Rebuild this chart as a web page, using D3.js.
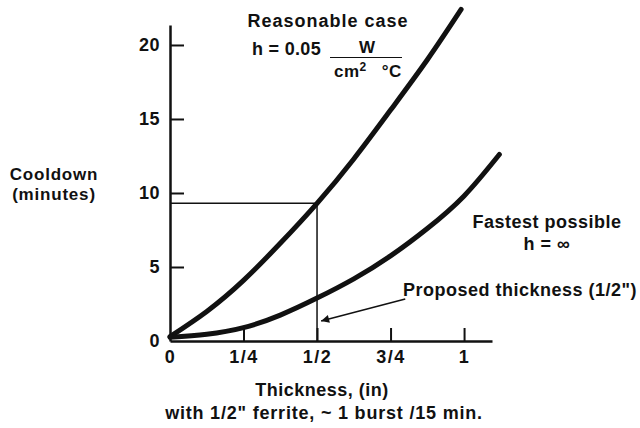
<!DOCTYPE html>
<html>
<head>
<meta charset="utf-8">
<script src="https://cdn.jsdelivr.net/npm/d3@7"></script>
<style>
  html, body { margin: 0; padding: 0; background: #fff; }
  svg { display: block; }
  text { font-family: "Liberation Sans", Arial, Helvetica, sans-serif; font-weight: bold; fill: #111; }
</style>
</head>
<body>
<svg id="chart" width="640" height="428"></svg>
<script>
// Cooldown time (minutes) against shield thickness (inches)
const thickness = [0, 0.125, 0.25, 0.375, 0.5, 0.625, 0.75, 0.875, 0.99];
const reasonable = [0.3, 2.0, 4.1, 6.6, 9.3, 12.3, 15.6, 19.0, 22.4];

const thicknessFast = [0, 0.125, 0.25, 0.375, 0.5, 0.625, 0.75, 0.875, 1.0, 1.12];
const fastest = [0.25, 0.45, 0.9, 1.75, 2.9, 4.2, 5.75, 7.6, 9.8, 12.6];

const xTicks = [0, 0.25, 0.5, 0.75, 1];
const xTickLabels = ["0", "1/4", "1/2", "3/4", "1"];
const yTicks = [0, 5, 10, 15, 20];

// Proposed design point: 1/2" thickness
const proposed = { x: 0.5, y: 9.3 };

const svg = d3.select("#chart");

const x = d3.scaleLinear().domain([0, 1.095]).range([170, 492]);
const y = d3.scaleLinear().domain([0, 21.35]).range([341, 25]);

// Guide lines to the proposed point
svg.append("line")
  .attr("x1", x(0)).attr("x2", x(proposed.x))
  .attr("y1", y(proposed.y)).attr("y2", y(proposed.y))
  .attr("stroke", "#111").attr("stroke-width", 1.5);
svg.append("line")
  .attr("x1", x(proposed.x)).attr("x2", x(proposed.x))
  .attr("y1", y(0)).attr("y2", y(proposed.y))
  .attr("stroke", "#111").attr("stroke-width", 1.5);

// Axes with inward ticks
const xAxis = d3.axisBottom(x)
  .tickValues(xTicks)
  .tickFormat((d, i) => xTickLabels[i])
  .tickSizeInner(-13).tickSizeOuter(0).tickPadding(9);
const gx = svg.append("g").attr("transform", `translate(0,${y(0)})`).call(xAxis);

const yAxis = d3.axisLeft(y)
  .tickValues(yTicks)
  .tickSizeInner(-14).tickSizeOuter(0).tickPadding(10);
const gy = svg.append("g").attr("transform", `translate(${x(0)},0)`).call(yAxis);

[gx, gy].forEach(g => {
  g.select(".domain").attr("stroke", "#111").attr("stroke-width", 2.5);
  g.selectAll(".tick line").attr("stroke", "#111").attr("stroke-width", 2);
  g.selectAll(".tick text")
    .style("font-family", '"Liberation Sans", Arial, sans-serif')
    .style("font-weight", "bold").style("font-size", "18px").attr("fill", "#111");
});
gx.selectAll(".tick text").style("letter-spacing", "1.5px");
gy.selectAll(".tick text").style("letter-spacing", "0.5px");
gy.selectAll(".tick").filter(d => d === 0).select("line").remove();
gx.selectAll(".tick").filter(d => d === 0).select("line").remove();

// Curves
const line = d3.line().x(d => x(d[0])).y(d => y(d[1])).curve(d3.curveNatural);
svg.append("path")
  .datum(thickness.map((t, i) => [t, reasonable[i]]))
  .attr("d", line).attr("fill", "none")
  .attr("stroke", "#111").attr("stroke-width", 5).attr("stroke-linecap", "round");
svg.append("path")
  .datum(thicknessFast.map((t, i) => [t, fastest[i]]))
  .attr("d", line).attr("fill", "none")
  .attr("stroke", "#111").attr("stroke-width", 5).attr("stroke-linecap", "round");

// Text helper
function label(tx, ty, str, size, anchor, spacing) {
  return svg.append("text").attr("x", tx).attr("y", ty)
    .attr("text-anchor", anchor || "start")
    .style("font-size", size + "px")
    .style("letter-spacing", (spacing || 0) + "px")
    .text(str);
}

// Axis titles
label(54, 180, "Cooldown", 17, "middle", 0.8);
label(54, 200, "(minutes)", 17, "middle", 0.8);

label(322, 396, "Thickness, (in)", 18, "middle", 0.5);
label(324, 419, "with 1/2\" ferrite, ~ 1 burst /15 min.", 18, "middle", 0.8);

// Curve annotations
label(328, 27, "Reasonable case", 18, "middle", 1);
label(252, 55, "h = 0.05", 18, "start", 0.3);
label(367, 53, "W", 17, "middle", 0);
svg.append("line").attr("x1", 330).attr("x2", 402).attr("y1", 57.5).attr("y2", 57.5)
  .attr("stroke", "#111").attr("stroke-width", 1.2);
const den = svg.append("text").attr("x", 334).attr("y", 77)
  .style("font-size", "17px").style("letter-spacing", "0.5px");
den.append("tspan").text("cm");
den.append("tspan").attr("dy", -6).style("font-size", "12px").text("2");
den.append("tspan").attr("dy", 6).attr("dx", 15).text("\u00B0C");

label(547, 228, "Fastest possible", 18, "middle", 0.5);
label(547, 250, "h = \u221E", 18, "middle", 0.5);

label(403, 296, "Proposed thickness (1/2\")", 18, "start", 0.5);

// Arrow pointing at the 1/2" guide line
svg.append("defs").append("marker")
  .attr("id", "arrowhead").attr("viewBox", "0 0 10 10")
  .attr("refX", 10).attr("refY", 5)
  .attr("markerWidth", 10).attr("markerHeight", 8)
  .attr("markerUnits", "userSpaceOnUse")
  .attr("orient", "auto")
  .append("path").attr("d", "M0,0 L10,5 L0,10 Z").attr("fill", "#111");
svg.append("line")
  .attr("x1", x(0.8)).attr("y1", y(2.84))
  .attr("x2", x(0.514)).attr("y2", y(1.35))
  .attr("stroke", "#111").attr("stroke-width", 1.5)
  .attr("marker-end", "url(#arrowhead)");
</script>
</body>
</html>
